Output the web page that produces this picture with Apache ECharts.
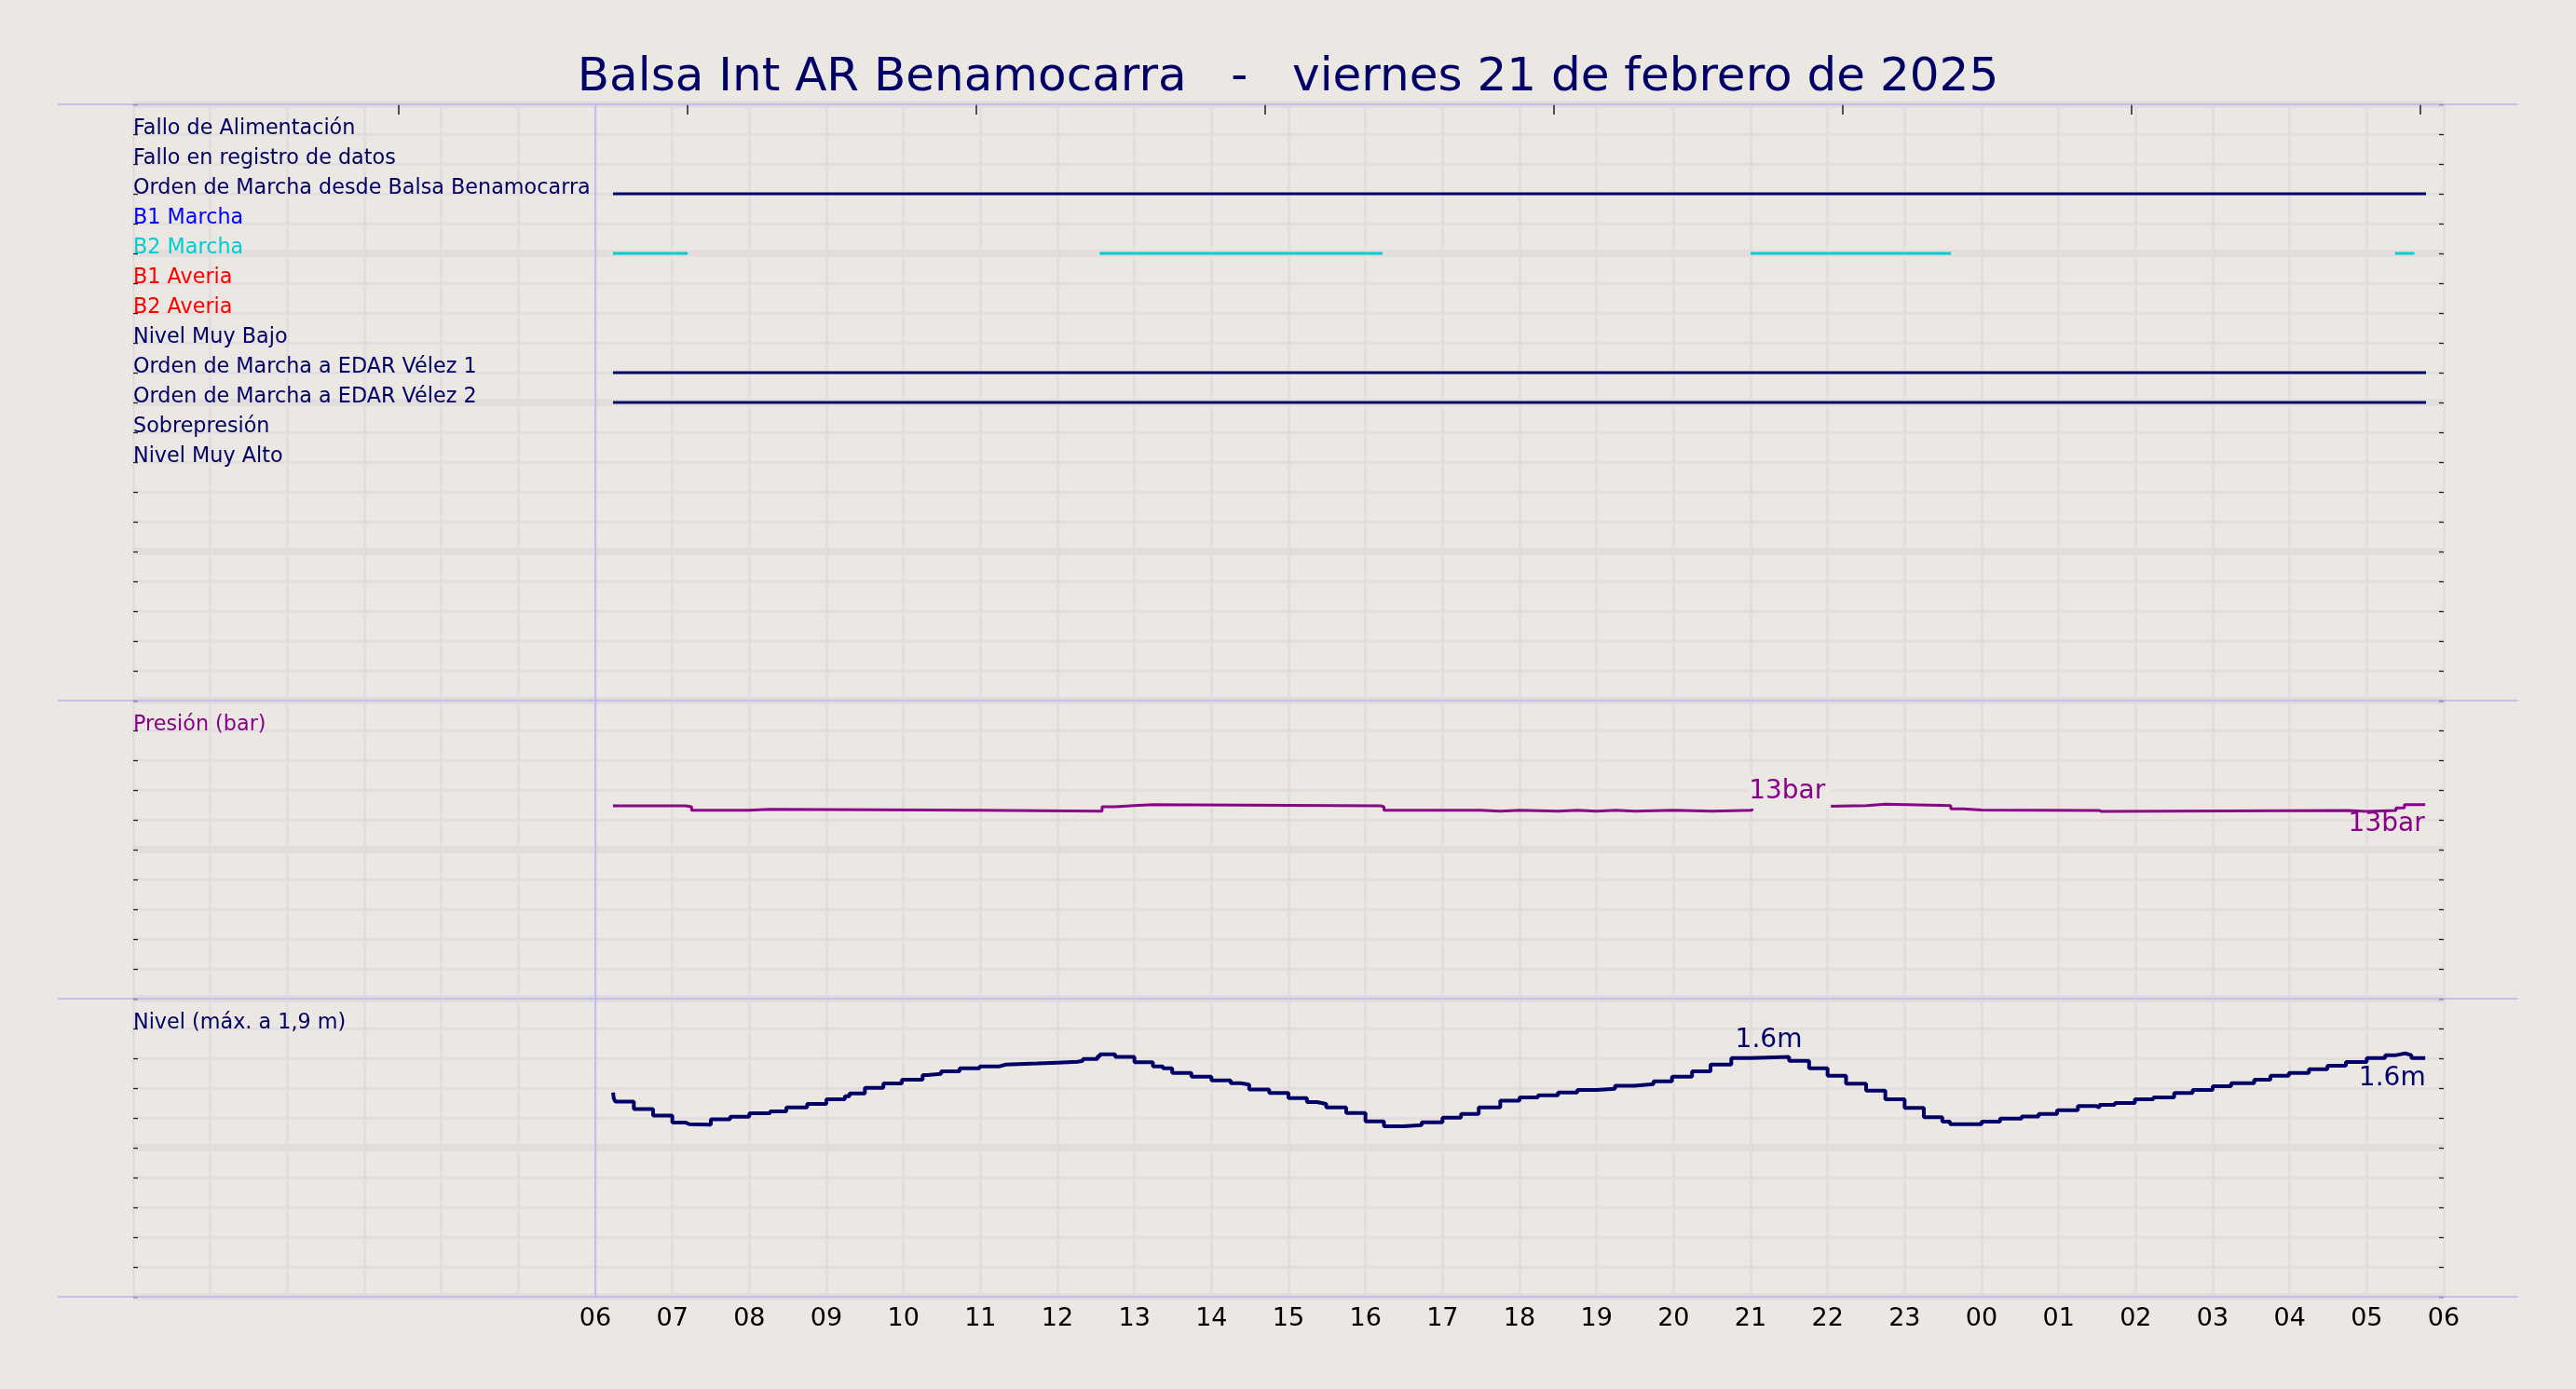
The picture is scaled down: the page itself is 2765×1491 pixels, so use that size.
<!DOCTYPE html>
<html>
<head>
<meta charset="utf-8">
<title>Balsa Int AR Benamocarra</title>
<script src="https://cdn.jsdelivr.net/npm/echarts@6.0.0/dist/echarts.min.js"></script>
<style>
html, body { margin: 0; padding: 0; background: #ebe7e2; }
#main { width: 2765px; height: 1491px; }
</style>
</head>
<body>
<div id="main"></div>
<script>
// horas contadas desde las 00:00 del viernes 21/02/2025
var rowNames = ['Fallo de Alimentación', 'Fallo en registro de datos', 'Orden de Marcha desde Balsa Benamocarra',
	'B1 Marcha', 'B2 Marcha', 'B1 Averia', 'B2 Averia', 'Nivel Muy Bajo', 'Orden de Marcha a EDAR Vélez 1',
	'Orden de Marcha a EDAR Vélez 2', 'Sobrepresión', 'Nivel Muy Alto'];
var rowColors = ['#000066', '#000066', '#000066', '#0000ff', '#00ced1', '#ff0000', '#ff0000', '#000066',
	'#000066', '#000066', '#000066', '#000066'];

// señales digitales: tramos [inicio, fin] en estado activo
var ordenBalsaOn = [[6.23, 29.77]];
var b2MarchaOn = [[6.23, 7.2], [12.55, 16.22], [21.0, 23.6], [29.37, 29.62]];
var ordenVelez1On = [[6.23, 29.77]];
var ordenVelez2On = [[6.23, 29.77]];

var presionHoras = [6.23, 7.17, 7.25, 7.99, 8.26, 10.99, 12.58, 12.75, 12.99, 13.24, 16.20, 16.24, 17.50, 17.75,
	18.01, 18.50, 18.75, 19.00, 19.25, 19.50, 20.00, 20.50, 21.02, 21.99, 22.51, 22.75, 23.60, 23.76, 24.00,
	25.53, 25.56, 28.76, 29.00, 29.38, 29.49, 29.76];
var presionBar = [12.94, 12.875, 12.64, 12.71, 12.64, 12.58, 12.875, 12.96, 13.02, 12.94, 12.875, 12.64, 12.58,
	12.64, 12.58, 12.64, 12.58, 12.64, 12.58, 12.64, 12.58, 12.64, 12.9, 12.96, 13.04, 12.96, 12.73, 12.66, 12.62,
	12.56, 12.62, 12.56, 12.62, 12.79, 13.02, 13.02];

var nivelHoras = [6.23, 6.24, 6.26, 6.50, 6.75, 7.00, 7.17, 7.22, 7.50, 7.75, 8.00, 8.27, 8.48, 8.75, 9.00, 9.24,
	9.30, 9.50, 9.74, 9.98, 10.25, 10.31, 10.49, 10.73, 10.99, 11.25, 11.33, 11.74, 12.00, 12.26, 12.33, 12.52,
	12.55, 12.75, 13.00, 13.24, 13.37, 13.49, 13.74, 14.00, 14.25, 14.38, 14.49, 14.75, 15.00, 15.24, 15.37,
	15.49, 15.75, 16.00, 16.24, 16.49, 16.73, 17.00, 17.24, 17.47, 17.75, 18.00, 18.24, 18.50, 18.75, 19.00,
	19.24, 19.49, 19.74, 19.98, 20.24, 20.48, 20.75, 21.00, 21.50, 21.76, 22.00, 22.24, 22.50, 22.75, 23.00,
	23.25, 23.49, 23.59, 24.00, 24.24, 24.52, 24.74, 24.98, 25.25, 25.49, 25.53, 25.73, 25.99, 26.23, 26.50,
	26.74, 27.00, 27.24, 27.54, 27.75, 27.99, 28.25, 28.49, 28.73, 29.00, 29.24, 29.38, 29.50, 29.58, 29.76];
var nivelM = [1.37, 1.33, 1.31, 1.26, 1.215, 1.169, 1.158, 1.154, 1.19, 1.208, 1.231, 1.244, 1.271, 1.294, 1.325,
	1.346, 1.364, 1.402, 1.431, 1.456, 1.488, 1.496, 1.513, 1.533, 1.546, 1.558, 1.565, 1.571, 1.577, 1.583,
	1.596, 1.613, 1.627, 1.61, 1.573, 1.546, 1.533, 1.502, 1.477, 1.452, 1.433, 1.423, 1.39, 1.367, 1.333,
	1.306, 1.294, 1.271, 1.233, 1.177, 1.144, 1.152, 1.171, 1.202, 1.227, 1.271, 1.315, 1.338, 1.352, 1.371,
	1.388, 1.396, 1.415, 1.427, 1.446, 1.477, 1.513, 1.558, 1.602, 1.61, 1.583, 1.533, 1.483, 1.429, 1.383,
	1.325, 1.267, 1.204, 1.175, 1.158, 1.175, 1.196, 1.21, 1.227, 1.252, 1.279, 1.269, 1.287, 1.300, 1.325,
	1.338, 1.367, 1.388, 1.413, 1.433, 1.456, 1.483, 1.502, 1.527, 1.55, 1.575, 1.602, 1.621, 1.633, 1.621,
	1.602, 1.602];

// marcas del eje superior
var topTicks = [3.45, 7.2, 10.95, 14.7, 18.45, 22.2, 25.95, 29.7];
var anotaPresionHora = 21.02;
var anotaNivelHora = 21.0;

var FONT = 'DejaVu Sans';
var NAVY = '#000066';
var PURPLE = '#8b008b';
var BG = '#ebe7e2';
var GRID_COLOR = '#e2dddc';
var SEP_COLOR = '#b4b4f4';
var TICK_COLOR = '#222222';

var chart = echarts.init(document.getElementById('main'));

function pares(horas, valores) {
	var d = [];
	for (var i = 0; i < horas.length; i++) {
		d.push([horas[i], valores[i]]);
	}
	return d;
}
function tramos(intervalos, fila) {
	var d = [];
	for (var i in intervalos) {
		d.push([intervalos[i][0], fila]);
		d.push([intervalos[i][1], fila]);
		d.push([intervalos[i][1], null]);
	}
	return d;
}
function ejeX(gridIndex, conEtiquetas) {
	return {
		type : 'value',
		gridIndex : gridIndex,
		min : 0,
		max : 30,
		interval : 1,
		axisLine : { show : false },
		axisTick : { show : false },
		axisLabel : conEtiquetas ? {
			show : true,
			margin : 9,
			fontFamily : FONT,
			fontSize : 27,
			lineHeight : 30,
			color : '#000000',
			formatter : function(v) {
				if (v < 6) {
					return '';
				}
				var h = v % 24;
				return (h < 10 ? '0' : '') + h;
			}
		} : { show : false },
		splitLine : { show : true, lineStyle : { color : GRID_COLOR, width : 2.5 } }
	};
}
// cuatro ejes por panel: etiquetas+lineas finas, marcas izq., marcas der., lineas gruesas
function ejesY(gridIndex, min, max, paso, pasoMayor, inverse, formatter, color) {
	var base = {
		type : 'value',
		gridIndex : gridIndex,
		min : min,
		max : max,
		inverse : inverse,
		axisLine : { show : false }
	};
	var marcas = { show : true, inside : true, length : 5, lineStyle : { color : TICK_COLOR, width : 1.3 } };
	var a = Object.assign({}, base, {
		position : 'left',
		interval : paso,
		axisTick : { show : false },
		axisLabel : {
			show : true,
			inside : true,
			margin : 0,
			fontFamily : FONT,
			fontSize : 22.3,
			lineHeight : 12,
			verticalAlign : 'bottom',
			color : color,
			formatter : formatter
		},
		splitLine : { show : true, lineStyle : { color : GRID_COLOR, width : 2.5 } }
	});
	var d = Object.assign({}, base, {
		position : 'left',
		interval : paso,
		axisTick : marcas,
		axisLabel : { show : false },
		splitLine : { show : false }
	});
	var b = Object.assign({}, base, {
		position : 'right',
		interval : paso,
		axisTick : marcas,
		axisLabel : { show : false },
		splitLine : { show : false }
	});
	var c = Object.assign({}, base, {
		position : 'left',
		interval : pasoMayor,
		axisTick : { show : false },
		axisLabel : { show : false },
		splitLine : { show : true, lineStyle : { color : GRID_COLOR, width : 7.5 } }
	});
	return [a, d, b, c];
}

var yAxes = [].concat(
	ejesY(0, 0, 20, 1, 5, true, function(v) {
		return rowNames[v - 1] || '';
	}, function(v) {
		return rowColors[Number(v) - 1] || NAVY;
	}),
	ejesY(1, 0, 20, 2, 10, false, function(v) {
		return v === 18 ? 'Presión (bar)' : '';
	}, PURPLE),
	ejesY(2, 0, 2, 0.2, 1, false, function(v) {
		return Math.abs(v - 1.8) < 1e-6 ? 'Nivel (máx. a 1,9 m)' : '';
	}, NAVY),
	[
		{ type : 'value', gridIndex : 3, min : 0, max : 40, inverse : true, show : false },
		{ type : 'value', gridIndex : 4, min : 0, max : 1, show : false }
	]
);

var xAxes = [
	ejeX(0, false),
	ejeX(1, false),
	ejeX(2, true),
	{
		type : 'value',
		gridIndex : 0,
		position : 'top',
		min : 0,
		max : 30,
		axisLine : { show : false },
		axisLabel : { show : false },
		splitLine : { show : false },
		axisTick : { show : true, inside : true, length : 11, customValues : topTicks,
			lineStyle : { color : TICK_COLOR, width : 1.5 } }
	},
	{ type : 'value', gridIndex : 3, min : 0, max : 1, show : false },
	{ type : 'value', gridIndex : 4, min : 0, max : 30, show : false }
];

function lineaDigital(nombre, intervalos, color) {
	var fila = rowNames.indexOf(nombre) + 1;
	return {
		name : nombre,
		type : 'line',
		xAxisIndex : 0,
		yAxisIndex : 0,
		data : tramos(intervalos, fila),
		showSymbol : false,
		symbol : 'none',
		connectNulls : false,
		lineStyle : { color : color, width : 3 },
		silent : true
	};
}

var iP = presionHoras.indexOf(anotaPresionHora);
var nP = presionHoras.length - 1;
var iN = nivelHoras.indexOf(anotaNivelHora);
var nN = nivelHoras.length - 1;

function etiqueta(texto, color, pos, align, extra) {
	return Object.assign({
		show : true,
		formatter : texto,
		position : pos,
		align : align,
		verticalAlign : 'middle',
		fontFamily : FONT,
		fontSize : 28,
		lineHeight : 30,
		color : color
	}, extra || {});
}

var option = {
	backgroundColor : BG,
	animation : false,
	title : {
		text : 'Balsa Int AR Benamocarra   -   viernes 21 de febrero de 2025',
		left : 'center',
		top : 54,
		padding : 0,
		textStyle : { fontFamily : FONT, fontSize : 50, fontWeight : 'normal', color : NAVY, lineHeight : 60 }
	},
	grid : [
		{ left : 143, right : 142, top : 112, height : 640 },
		{ left : 143, right : 142, top : 752, height : 320 },
		{ left : 143, right : 142, top : 1072, height : 320 },
		{ left : 62, right : 62, top : 112, height : 1280 },
		{ left : 143, right : 142, top : 112, height : 1280 }
	],
	xAxis : xAxes,
	yAxis : yAxes,
	series : [
		lineaDigital('Orden de Marcha desde Balsa Benamocarra', ordenBalsaOn, NAVY),
		lineaDigital('B2 Marcha', b2MarchaOn, '#00ced1'),
		lineaDigital('Orden de Marcha a EDAR Vélez 1', ordenVelez1On, NAVY),
		lineaDigital('Orden de Marcha a EDAR Vélez 2', ordenVelez2On, NAVY),
		{
			name : 'Presión',
			type : 'line',
			xAxisIndex : 1,
			yAxisIndex : 4,
			step : 'end',
			data : pares(presionHoras, presionBar),
			showSymbol : false,
			symbol : 'none',
			lineStyle : { color : PURPLE, width : 3 },
			markPoint : {
				symbol : 'circle',
				symbolSize : 1,
				itemStyle : { color : 'rgba(0,0,0,0)' },
				z : 10,
				data : [
					{
						coord : [presionHoras[iP], presionBar[iP]],
						label : etiqueta(Math.round(presionBar[iP]) + 'bar', PURPLE, [-3, -15.5], 'left',
							{ backgroundColor : BG, padding : [0, 6, 7, 0] })
					},
					{
						coord : [presionHoras[nP], presionBar[nP]],
						label : etiqueta(Math.round(presionBar[nP]) + 'bar', PURPLE, [0, 22], 'right')
					}
				]
			}
		},
		{
			name : 'Nivel',
			type : 'line',
			xAxisIndex : 2,
			yAxisIndex : 8,
			step : 'end',
			data : pares(nivelHoras, nivelM),
			showSymbol : false,
			symbol : 'none',
			lineStyle : { color : NAVY, width : 4 },
			markPoint : {
				symbol : 'circle',
				symbolSize : 1,
				itemStyle : { color : 'rgba(0,0,0,0)' },
				z : 10,
				data : [
					{
						coord : [nivelHoras[iN], nivelM[iN]],
						label : etiqueta(nivelM[iN].toFixed(1) + 'm', NAVY, [20, -17], 'center')
					},
					{
						coord : [nivelHoras[nN], nivelM[nN]],
						label : etiqueta(nivelM[nN].toFixed(1) + 'm', NAVY, [1, 23], 'right')
					}
				]
			}
		},
		{
			// separadores entre paneles
			type : 'line',
			xAxisIndex : 4,
			yAxisIndex : 12,
			data : [],
			silent : true,
			markLine : {
				silent : true,
				symbol : ['none', 'none'],
				label : { show : false },
				lineStyle : { color : SEP_COLOR, width : 1.5, type : 'solid' },
				data : [{ yAxis : 0 }, { yAxis : 20 }, { yAxis : 30 }, { yAxis : 40 }]
			}
		},
		{
			// inicio del periodo (06:00)
			type : 'line',
			xAxisIndex : 5,
			yAxisIndex : 13,
			data : [],
			silent : true,
			markLine : {
				silent : true,
				symbol : ['none', 'none'],
				label : { show : false },
				lineStyle : { color : SEP_COLOR, width : 1.5, type : 'solid' },
				data : [{ xAxis : 6 }]
			}
		}
	]
};
chart.setOption(option);
</script>
</body>
</html>
